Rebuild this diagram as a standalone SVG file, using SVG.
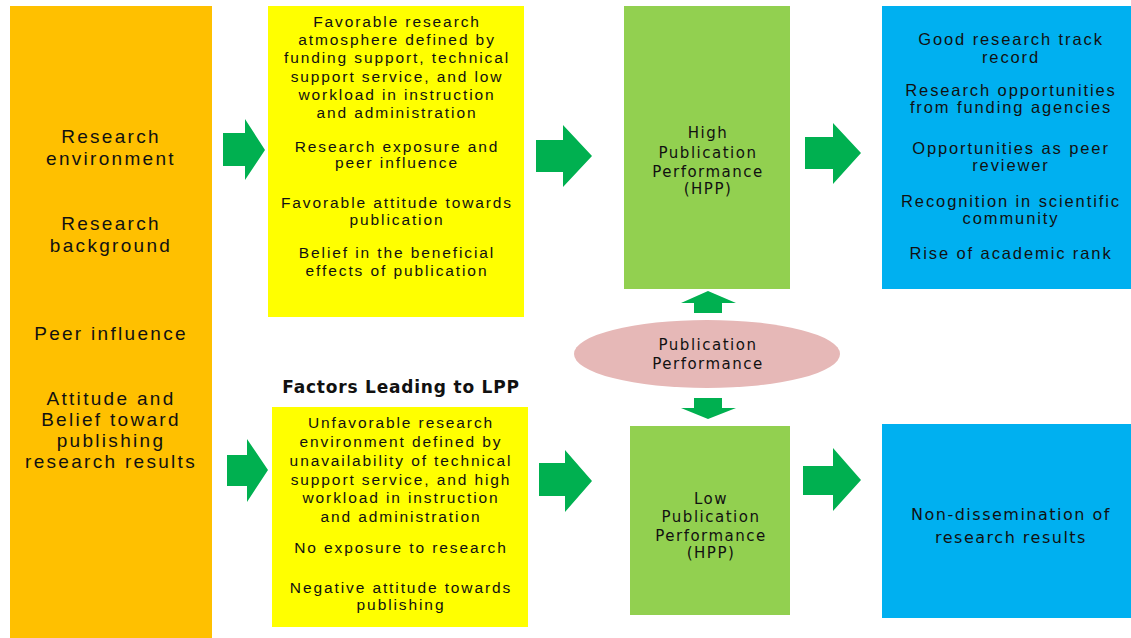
<svg xmlns="http://www.w3.org/2000/svg" width="1131" height="638" viewBox="0 0 1131 638">
<style>
.a{font-family:"Liberation Sans",Arial,sans-serif;fill:#111;text-anchor:middle}
.o{font-size:19px;letter-spacing:2.3px}
.y{font-size:15.5px;letter-spacing:1.9px}
.b{font-size:16.5px;letter-spacing:1.9px}
.v{font-family:"DejaVu Sans",Verdana,sans-serif;fill:#111;text-anchor:middle;font-size:15px;letter-spacing:1.5px}
.vb{font-size:16px;letter-spacing:1.5px}
.t{font-family:"DejaVu Sans",Verdana,sans-serif;font-weight:bold;font-size:17px;letter-spacing:0.8px;fill:#111;text-anchor:middle}
.arr{fill:#00B050}
</style>
<rect width="1131" height="638" fill="#fff"/>
<g id="factors">
<rect x="10" y="6" width="202" height="632" fill="#FFC000"/>
<text class="a o" x="111" y="143">Research</text>
<text class="a o" x="111" y="165">environment</text>
<text class="a o" x="111" y="230">Research</text>
<text class="a o" x="111" y="252">background</text>
<text class="a o" x="111" y="340">Peer influence</text>
<text class="a o" x="111" y="405">Attitude and</text>
<text class="a o" x="111" y="426">Belief toward</text>
<text class="a o" x="111" y="447">publishing</text>
<text class="a o" x="111" y="468">research results</text>
</g>
<g id="hpp-factors">
<rect x="268" y="6" width="256" height="311" fill="#FFFF00"/>
<text class="a y" x="397" y="27">Favorable research</text>
<text class="a y" x="397" y="45">atmosphere defined by</text>
<text class="a y" x="397" y="63">funding support, technical</text>
<text class="a y" x="397" y="82">support service, and low</text>
<text class="a y" x="397" y="100">workload in instruction</text>
<text class="a y" x="397" y="118">and administration</text>
<text class="a y" x="397" y="152">Research exposure and</text>
<text class="a y" x="397" y="168">peer influence</text>
<text class="a y" x="397" y="208">Favorable attitude towards</text>
<text class="a y" x="397" y="225">publication</text>
<text class="a y" x="397" y="258">Belief in the beneficial</text>
<text class="a y" x="397" y="276">effects of publication</text>
</g>
<g id="lpp-title">
<text class="t" x="401" y="393">Factors Leading to LPP</text>
</g>
<g id="lpp-factors">
<rect x="272" y="407" width="256" height="220" fill="#FFFF00"/>
<text class="a y" x="401" y="428">Unfavorable research</text>
<text class="a y" x="401" y="447">environment defined by</text>
<text class="a y" x="401" y="466">unavailability of technical</text>
<text class="a y" x="401" y="485">support service, and high</text>
<text class="a y" x="401" y="503">workload in instruction</text>
<text class="a y" x="401" y="522">and administration</text>
<text class="a y" x="401" y="553">No exposure to research</text>
<text class="a y" x="401" y="593">Negative attitude towards</text>
<text class="a y" x="401" y="610">publishing</text>
</g>
<g id="hpp">
<rect x="624" y="6" width="166" height="283" fill="#92D050"/>
<text class="v" x="708" y="138">High</text>
<text class="v" x="708" y="158">Publication</text>
<text class="v" x="708" y="177">Performance</text>
<text class="v" x="708" y="194">(HPP)</text>
</g>
<g id="performance">
<ellipse cx="707" cy="354" rx="133" ry="34" fill="#E6B8B7"/>
<text class="v" x="708" y="350">Publication</text>
<text class="v" x="708" y="369">Performance</text>
</g>
<g id="lpp">
<rect x="630" y="426" width="160" height="189" fill="#92D050"/>
<text class="v" x="711" y="504">Low</text>
<text class="v" x="711" y="522">Publication</text>
<text class="v" x="711" y="541">Performance</text>
<text class="v" x="711" y="558">(HPP)</text>
</g>
<g id="hpp-outcomes">
<rect x="882" y="6" width="249" height="283" fill="#00B0F0"/>
<text class="a b" x="1011" y="45">Good research track</text>
<text class="a b" x="1011" y="63">record</text>
<text class="a b" x="1011" y="96">Research opportunities</text>
<text class="a b" x="1011" y="113">from funding agencies</text>
<text class="a b" x="1011" y="154">Opportunities as peer</text>
<text class="a b" x="1011" y="171">reviewer</text>
<text class="a b" x="1011" y="207">Recognition in scientific</text>
<text class="a b" x="1011" y="224">community</text>
<text class="a b" x="1011" y="259">Rise of academic rank</text>
</g>
<g id="lpp-outcomes">
<rect x="882" y="424" width="249" height="194" fill="#00B0F0"/>
<text class="v vb" x="1011" y="520">Non-dissemination of</text>
<text class="v vb" x="1011" y="543">research results</text>
</g>
<g id="connectors">
<polygon class="arr" points="223,133 245,133 245,119 265,150 245,180 245,166 223,166"/>
<polygon class="arr" points="227,455 247,455 247,439 268,470 247,502 247,486 227,486"/>
<polygon class="arr" points="536,140 563,140 563,125 592,156 563,187 563,172 536,172"/>
<polygon class="arr" points="805,137 833,137 833,123 861,153 833,184 833,169 805,169"/>
<polygon class="arr" points="539,463 565,463 565,450 592,481 565,512 565,496 539,496"/>
<polygon class="arr" points="803,466 833,466 833,448 861,480 833,511 833,495 803,495"/>
<polygon class="arr" points="694,313 694,303 681,303 708,291 736,303 722,303 722,313"/>
<polygon class="arr" points="694,398 722,398 722,408 736,408 708,419 681,408 694,408"/>
</g>
</svg>
